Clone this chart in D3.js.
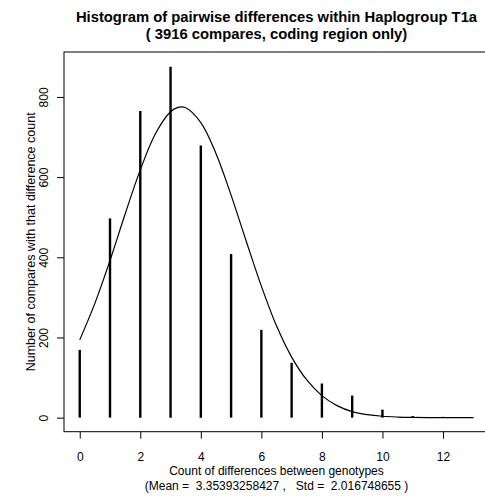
<!DOCTYPE html>
<html>
<head>
<meta charset="utf-8">
<script src="https://cdn.jsdelivr.net/npm/d3@7"></script>
<style>
  body { margin: 0; background: #fff; }
  svg text { font-family: "Liberation Sans", Arial, Helvetica, sans-serif; fill: #000; white-space: pre; }
</style>
</head>
<body>
<svg class="histogram" width="485" height="496"></svg>
<script>
/**********************
 Data
**********************/
// difference counts and number of compares per count
var diffCounts = [0, 1, 2, 3, 4, 5, 6, 7, 8, 9, 10, 11, 12, 13];
var compares = [169, 497, 765, 875, 679, 408, 219, 137, 85, 55, 20, 4, 2, 1];

// fitted normal curve
var curveX = [0, 0.5, 1, 1.5, 2, 2.5, 3, 3.25, 3.5, 4, 4.5, 5, 5.5, 6, 6.5, 7, 7.5, 8, 8.5, 9, 9.5, 10, 10.5, 11, 11.5, 12, 12.5, 13];
var curveY = [194, 285, 392, 508, 618, 708, 763, 774, 773, 736, 659, 555, 440, 328, 229, 151, 94, 55, 30, 15, 7.5, 3.4, 1.5, 0.6, 0.2, 0.1, 0, 0];

var xTicks = [0, 2, 4, 6, 8, 10, 12];
var yTicks = [0, 200, 400, 600, 800];

var titleLines = ['Histogram of pairwise differences within Haplogroup T1a', '( 3916 compares, coding region only)'];
var xTitleLines = ['Count of differences between genotypes', '(Mean =  3.35393258427 ,   Std =  2.016748655 )'];
var yTitle = 'Number of compares with that difference count';

/**********************
 Layout
**********************/
var svg = d3.select('svg.histogram');

var plot = {l: 64, r: 489, t: 52, b: 431.7};
var centerX = (plot.l + plot.r) / 2;
var centerY = (plot.t + plot.b) / 2;

// R style 4% padding on both axes
var xScale = d3.scaleLinear().domain([-0.52, 13.52]).range([plot.l, plot.r]);
var yScale = d3.scaleLinear().domain([-35.08, 912.08]).range([plot.b, plot.t]);

/**********************
 Bars (type = 'h')
**********************/
svg.append('g')
  .selectAll('line')
  .data(diffCounts)
  .enter()
  .append('line')
  .attr('x1', function(d) { return xScale(d); })
  .attr('x2', function(d) { return xScale(d); })
  .attr('y1', yScale(0))
  .attr('y2', function(d, i) { return yScale(compares[i]); })
  .attr('stroke', '#000')
  .attr('stroke-width', 2.4);

/**********************
 Normal curve
**********************/
var line = d3.line()
  .x(function(d, i) { return xScale(curveX[i]); })
  .y(function(d) { return yScale(d); })
  .curve(d3.curveCatmullRom);

svg.append('path')
  .attr('d', line(curveY))
  .attr('fill', 'none')
  .attr('stroke', '#000')
  .attr('stroke-width', 1.2);

/**********************
 Box and axes
**********************/
svg.append('rect')
  .attr('x', plot.l)
  .attr('y', plot.t)
  .attr('width', plot.r - plot.l)
  .attr('height', plot.b - plot.t)
  .attr('fill', 'none')
  .attr('stroke', '#000')
  .attr('stroke-width', 1);

var xAxisG = svg.append('g')
  .attr('transform', 'translate(0,' + plot.b + ')')
  .call(d3.axisBottom(xScale).tickValues(xTicks).tickSize(7).tickPadding(14));
xAxisG.select('.domain').remove();
xAxisG.selectAll('text').attr('font-size', 12);

var yAxisG = svg.append('g')
  .attr('transform', 'translate(' + plot.l + ',0)')
  .call(d3.axisLeft(yScale).tickValues(yTicks).tickSize(7));
yAxisG.select('.domain').remove();
yAxisG.selectAll('text')
  .attr('x', 0)
  .attr('dy', 0)
  .attr('font-size', 12)
  .attr('text-anchor', 'middle')
  .attr('transform', 'translate(-16,0) rotate(-90)');

/**********************
 Titles
**********************/
svg.selectAll('text.title')
  .data(titleLines)
  .enter()
  .append('text')
  .attr('class', 'title')
  .attr('x', centerX)
  .attr('y', function(d, i) { return 22 + i * 16.5; })
  .attr('text-anchor', 'middle')
  .attr('font-size', 14.8)
  .attr('font-weight', 'bold')
  .text(function(d) { return d; });

svg.selectAll('text.xtitle')
  .data(xTitleLines)
  .enter()
  .append('text')
  .attr('class', 'xtitle')
  .attr('x', centerX)
  .attr('y', function(d, i) { return 475 + i * 15; })
  .attr('text-anchor', 'middle')
  .attr('font-size', 12)
  .text(function(d) { return d; });

svg.append('text')
  .attr('transform', 'translate(35,' + centerY + ') rotate(-90)')
  .attr('text-anchor', 'middle')
  .attr('font-size', 12.5)
  .text(yTitle);
</script>
</body>
</html>
